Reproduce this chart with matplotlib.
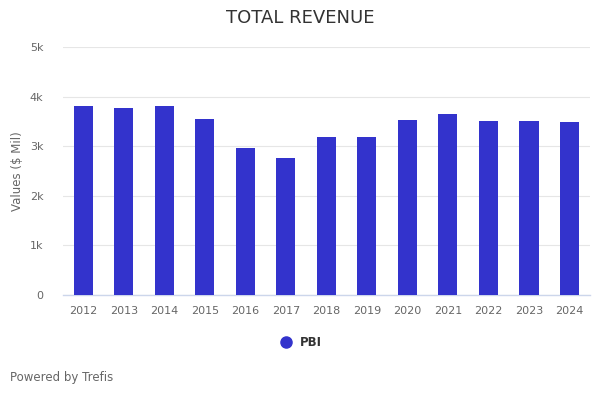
import matplotlib
matplotlib.use("Agg")
import matplotlib.pyplot as plt
from matplotlib.lines import Line2D

years = ['2012', '2013', '2014', '2015', '2016', '2017', '2018',
         '2019', '2020', '2021', '2022', '2023', '2024']
revenue = [3815, 3775, 3815, 3550, 2960, 2755, 3185,
           3185, 3530, 3655, 3510, 3510, 3490]
yticks = [0, 1000, 2000, 3000, 4000, 5000]
ylabels = ['0', '1k', '2k', '3k', '4k', '5k']
bar_color = '#3333cc'

plt.rcParams['font.family'] = ['DejaVu Sans']
fig = plt.figure(figsize=(6, 4), dpi=100)
ax = fig.add_axes([0.105, 0.2625, 0.878, 0.62])

x = range(len(years))
ax.bar(x, revenue, width=0.47, color=bar_color, zorder=3)
ax.set_xlim(-0.5, len(years) - 0.5)
ax.set_ylim(0, 5000)
ax.set_xticks(list(x))
ax.set_xticklabels(years)
ax.set_yticks(yticks)
ax.set_yticklabels(ylabels)
ax.tick_params(axis='both', length=0, labelsize=8, colors='#666666')
ax.tick_params(axis='x', pad=8)
ax.tick_params(axis='y', pad=14)
ax.grid(axis='y', color='#e6e6e6', linewidth=0.8, zorder=0)
for s in ['top', 'right', 'left']:
    ax.spines[s].set_visible(False)
ax.spines['bottom'].set_color('#ccd6eb')
ax.spines['bottom'].set_linewidth(1)
ax.set_ylabel('Values ($ Mil)', fontsize=8.5, color='#666666', labelpad=4)

fig.text(0.5, 0.955, 'TOTAL REVENUE', ha='center', va='center',
         fontsize=13, color='#333333')

handle = Line2D([], [], marker='o', linestyle='none', markersize=8,
                color=bar_color)
leg = fig.legend([handle], ['PBI'], loc='center', bbox_to_anchor=(0.497, 0.144),
                 frameon=False, handletextpad=0.2,
                 prop={'weight': 'bold', 'size': 8.5})
for t in leg.get_texts():
    t.set_color('#333333')

fig.text(0.017, 0.055, 'Powered by Trefis', ha='left', va='center',
         fontsize=8.5, color='#666666')

fig.savefig('out.png', dpi=100)
